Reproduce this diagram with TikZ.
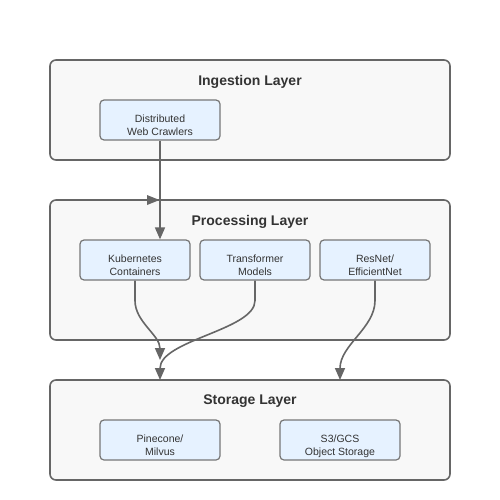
\documentclass[tikz,border=0pt]{standalone}
\usepackage{fontspec}
\setmainfont{Liberation Sans}
\usetikzlibrary{arrows.meta}
\definecolor{layerfill}{HTML}{F8F8F8}
\definecolor{layerline}{HTML}{666666}
\definecolor{boxfill}{HTML}{E6F2FF}
\definecolor{boxline}{HTML}{777777}
\definecolor{txt}{HTML}{333333}
\definecolor{arr}{HTML}{666666}
\begin{document}
\begin{tikzpicture}[x=1pt,y=-1pt,
  layer/.style={draw=layerline,fill=layerfill,line width=1.6pt,rounded corners=6pt},
  comp/.style={draw=boxline,fill=boxfill,line width=1.2pt,rounded corners=4pt,
    minimum width=#1,minimum height=40pt,inner sep=0pt,text=txt,
    text height=31.5pt,text depth=0.5pt,
    font=\fontsize{10.5}{13}\selectfont,align=center},
  comp/.default=120pt,
  title/.style={text=txt,font=\fontsize{14}{16}\selectfont\bfseries},
  flow/.style={draw=arr,line width=1.6pt,-{Triangle[length=12pt,width=10pt]}}]
\useasboundingbox (0,0) rectangle (500,500);
% layers
\draw[layer] (50,60) rectangle (450,160);
\draw[layer] (50,200) rectangle (450,340);
\draw[layer] (50,380) rectangle (450,480);
\node[title] (tin) at (250,81.5) {Ingestion Layer};
\node[title] (tpr) at (250,221.5) {Processing Layer};
\node[title] (tst) at (250,401.5) {Storage Layer};
% components
\node[comp] (crawl) at (160,120) {Distributed\\Web Crawlers};
\node[comp=110pt] (k8s) at (135,260) {Kubernetes\\Containers};
\node[comp=110pt] (tf) at (255,260) {Transformer\\Models};
\node[comp=110pt] (res) at (375,260) {ResNet/\\EfficientNet};
\node[comp] (pine) at (160,440) {Pinecone/\\Milvus};
\node[comp] (s3) at (340,440) {S3/GCS\\Object Storage};
% arrow targets
\coordinate (a1) at (160,360);
\coordinate (a2) at (160,380);
\coordinate (a3) at (340,380);
% connectors
\draw[flow] (crawl.south) -- (crawl.south |- k8s.north);
\fill[arr] (147,195) -- (159.5,200) -- (147,205) -- cycle;
\draw[flow] (k8s.south) -- ++(0,20) .. controls (135,322) and (160,335) .. (a1);
\draw[flow] (tf.south) -- ++(0,20) .. controls (255,330) and (160,340) .. (a2);
\draw[flow] (res.south) -- ++(0,20) .. controls (375,328) and (340,345) .. (a3);
\end{tikzpicture}
\end{document}
